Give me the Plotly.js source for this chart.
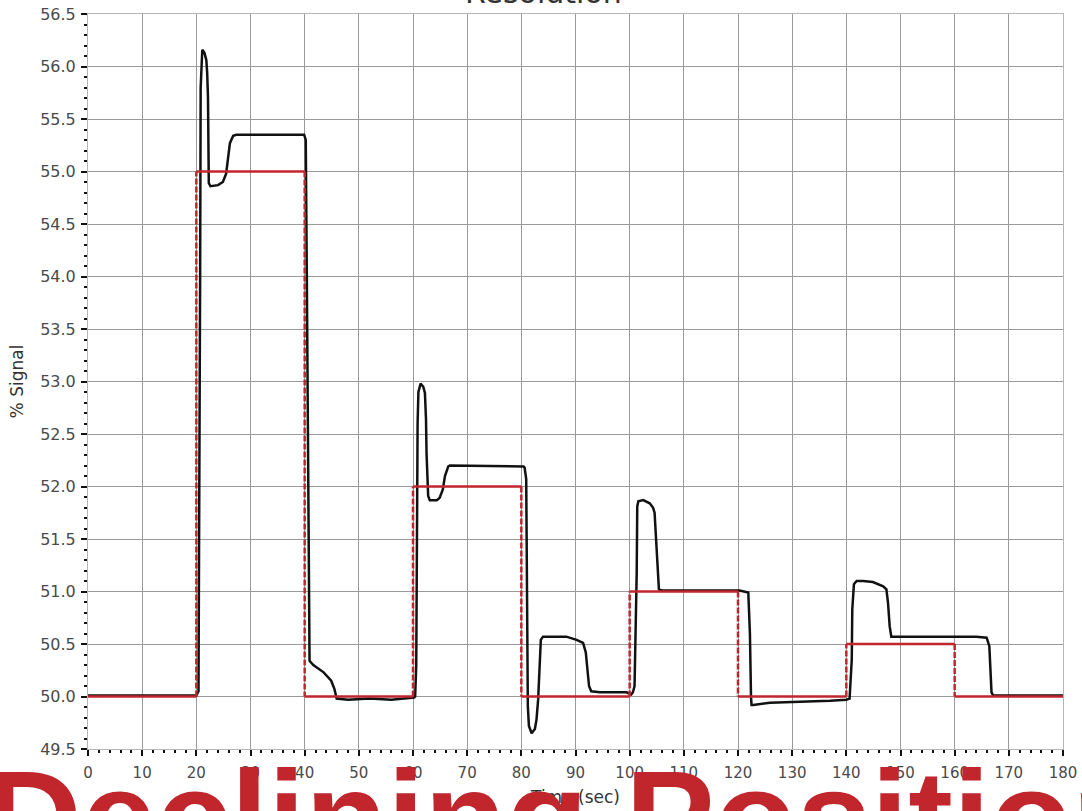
<!DOCTYPE html>
<html>
<head>
<meta charset="utf-8">
<script src="https://cdn.plot.ly/plotly-3.0.1.min.js"></script>
<style>
  html, body { margin: 0; padding: 0; background: #ffffff; }
  #chart { width: 1082px; height: 811px; }
</style>
</head>
<body>
<div id="chart"></div>
<script>
// Setpoint steps: start time of each level and the level held until the next step
const stepTimes = [0, 20, 40, 60, 80, 100, 120, 140, 160, 180];
const setpoints = [50, 55, 50, 52, 50, 51, 50, 50.5, 50];

// Measured process response (% signal) over time (sec)
const responseTime = [
  0, 20.0, 20.4, 20.55, 20.7, 20.8, 20.95, 21.1, 21.5, 21.85, 22.0, 22.15, 22.3, 22.6, 24.0,
  24.9, 25.5, 26.2, 26.8, 27.4, 39.9, 40.2, 40.4, 40.6, 40.8, 40.9, 41.6, 43.5, 44.9, 45.5,
  45.9, 48, 52, 56, 60.2,
  60.4, 60.6, 60.7, 60.85, 61.0, 61.4, 61.9, 62.2, 62.4, 62.5, 62.8, 63.1, 64.4, 64.9, 65.5,
  65.9, 66.5, 66.8, 80.4, 80.6, 80.9, 81.0, 81.2, 81.4, 81.9, 82.5, 82.8, 83.1, 83.4,
  83.6, 84.0, 85.8, 88.3, 90.2, 91.4, 91.9, 92.2, 92.5, 92.9, 94.5, 99.4, 100.3, 100.6,
  100.9, 101.3, 101.4, 101.6, 102.5, 103.7, 104.3, 104.6, 104.8, 105.1, 105.2, 105.4, 106,
  120.3, 121.9, 122.2, 122.4, 122.5, 122.8, 124.0, 125.9, 137, 140.0, 140.6, 141.0, 141.1,
  141.4, 141.9, 143.1, 144.9, 146.8, 147.4, 147.7, 148.0, 148.3, 149.3, 161.6, 164.0,
  165.9, 166.4, 166.6, 166.8, 167.1, 180
];
const responseSignal = [
  50.01, 50.01, 50.05, 51.5, 54.0, 55.8, 56.1, 56.16, 56.13, 56.06, 55.94, 55.71, 54.89, 54.86, 54.87,
  54.90, 54.98, 55.27, 55.34, 55.35, 55.35, 55.30, 54.0, 52.0, 50.6, 50.34, 50.30, 50.23, 50.15, 50.07,
  49.98, 49.97, 49.98, 49.97, 49.99,
  50.0, 50.3, 51.5, 52.6, 52.9, 52.98, 52.95, 52.89, 52.64, 52.32, 51.91, 51.87, 51.87, 51.89, 51.97,
  52.10, 52.19, 52.20, 52.19, 52.18, 52.07, 51.18, 49.91, 49.72, 49.65, 49.69, 49.78, 49.97, 50.42,
  50.54, 50.57, 50.57, 50.57, 50.54, 50.51, 50.42, 50.23, 50.10, 50.05, 50.04, 50.04, 50.02, 50.04,
  50.10, 51.18, 51.81, 51.86, 51.87, 51.84, 51.80, 51.75, 51.53, 51.27, 51.11, 51.02, 51.01,
  51.01, 50.99, 50.6, 50.0, 49.92, 49.92, 49.93, 49.94, 49.96, 49.97, 49.98, 50.35, 50.83,
  51.07, 51.10, 51.10, 51.09, 51.05, 51.02, 50.89, 50.67, 50.57, 50.57, 50.57, 50.57,
  50.56, 50.48, 50.26, 50.04, 50.01, 50.01
];

const chartTitle = 'Resolution';
const xTitle = 'Time (sec)';
const yTitle = '% Signal';
const banner = 'Declining Position';

// Horizontal setpoint levels (solid) and the step transitions between them (dashed)
const levelX = [], levelY = [], stepX = [], stepY = [];
for (let i = 0; i < setpoints.length; i++) {
  levelX.push(stepTimes[i], stepTimes[i + 1], null);
  levelY.push(setpoints[i], setpoints[i], null);
  if (i > 0) {
    stepX.push(stepTimes[i], stepTimes[i], null);
    stepY.push(setpoints[i - 1], setpoints[i], null);
  }
}

const red = '#c1262d';
const traces = [
  { x: responseTime, y: responseSignal, mode: 'lines', name: 'Response',
    line: { color: '#111111', width: 2.5 } },
  { x: levelX, y: levelY, mode: 'lines', name: 'Setpoint',
    line: { color: red, width: 2.5 }, connectgaps: false },
  { x: stepX, y: stepY, mode: 'lines', name: 'Setpoint step',
    line: { color: red, width: 2.5, dash: '6px,2px' }, connectgaps: false }
];

const L = 88, R = 1063, T = 14, B = 749.5;
const px = v => (v - L) / (R - L);
const py = v => (B - v) / (B - T);

const tickFont = { family: 'DejaVu Sans, sans-serif', size: 15, color: '#4a4a4a' };

const layout = {
  width: 1082, height: 811,
  margin: { l: L, r: 1082 - R, t: T, b: 811 - B },
  paper_bgcolor: '#ffffff', plot_bgcolor: '#ffffff',
  showlegend: false,
  hovermode: false,
  xaxis: {
    range: [0, 180], dtick: 10, tick0: 0,
    showgrid: true, gridcolor: '#9a9a9a', gridwidth: 1,
    zeroline: false,
    showline: true, linecolor: '#b5b5b5', linewidth: 1, mirror: true,
    ticks: 'outside', ticklen: 6, tickwidth: 2, tickcolor: '#111111',
    minor: { dtick: 2, ticks: 'outside', ticklen: 3, tickwidth: 2, tickcolor: '#111111', showgrid: false },
    tickfont: tickFont,
    ticklabelstandoff: 4,
    title: { text: xTitle, font: { family: 'DejaVu Sans, sans-serif', size: 17, color: '#333333' }, standoff: 10 }
  },
  yaxis: {
    range: [49.5, 56.5], dtick: 0.5, tick0: 49.5, tickformat: '.1f',
    showgrid: true, gridcolor: '#9a9a9a', gridwidth: 1,
    zeroline: false,
    showline: true, linecolor: '#b5b5b5', linewidth: 1, mirror: true,
    ticks: 'outside', ticklen: 6, tickwidth: 2, tickcolor: '#111111',
    minor: { dtick: 0.1, ticks: 'outside', ticklen: 3, tickwidth: 2, tickcolor: '#111111', showgrid: false },
    tickfont: { family: 'DejaVu Sans, sans-serif', size: 16, color: '#4a4a4a' },
    ticklabelstandoff: 2,
    title: { text: yTitle, font: { family: 'DejaVu Sans, sans-serif', size: 17, color: '#333333' }, standoff: 12 }
  },
  annotations: [
    { text: chartTitle, xref: 'paper', yref: 'paper', x: px(543), y: py(12),
      xanchor: 'center', yanchor: 'bottom', showarrow: false,
      font: { family: 'DejaVu Sans, sans-serif', size: 30, color: '#333333' } },
    { text: banner, xref: 'paper', yref: 'paper', x: px(-17), y: py(741),
      xanchor: 'left', yanchor: 'top', showarrow: false,
      font: { family: 'Liberation Sans, Arial, sans-serif', size: 134, weight: 'bold', color: red } }
  ]
};

Plotly.newPlot('chart', traces, layout, { displayModeBar: false, staticPlot: true });
</script>
</body>
</html>
